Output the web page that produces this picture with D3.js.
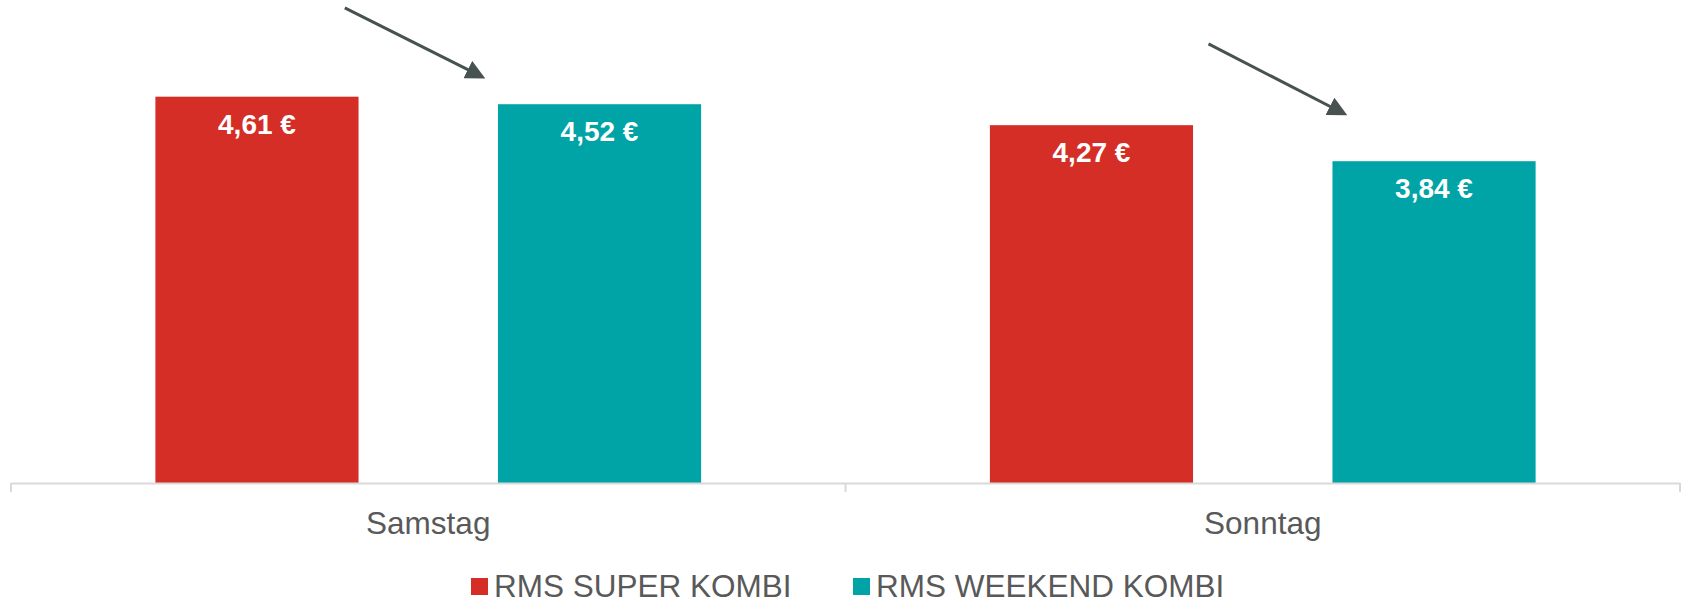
<!DOCTYPE html>
<html>
<head>
<meta charset="utf-8">
<script src="https://cdn.jsdelivr.net/npm/d3@7"></script>
<style>
  body { margin: 0; background: #fff; }
  svg { display: block; font-family: "Liberation Sans", Arial, sans-serif; }
</style>
</head>
<body>
<div id="container"></div>
<script>
// data
var categories = ["Samstag", "Sonntag"];
var seriesNames = ["RMS SUPER KOMBI", "RMS WEEKEND KOMBI"];
var seriesColors = ["#d42e27", "#00a3a6"];
var superKombi = [4.61, 4.27];
var weekendKombi = [4.52, 3.84];
// arrows: start/end as [band fraction within category, value]
var arrows = [
  { cat: "Samstag", from: [0.4, 5.67], to: [0.56, 4.87] },
  { cat: "Sonntag", from: [0.435, 5.24], to: [0.593, 4.43] }
];

var width = 1683,
  height = 603,
  baseY = 483,
  pxPerUnit = 83.8,
  yMax = 5.5;

var svg = d3.select("#container").append("svg")
  .attr("width", width)
  .attr("height", height);

var x0 = d3.scaleBand().domain(categories).range([11, 1680]).padding(0);
var x1 = d3.scaleBand().domain(seriesNames).range([0, x0.bandwidth()])
  .paddingInner(0.407).paddingOuter(0.4215);
var y = d3.scaleLinear().domain([0, yMax]).range([baseY, baseY - yMax * pxPerUnit]);

var de = d3.formatLocale({ decimal: ",", thousands: ".", grouping: [3], currency: ["", " €"] });
var fmt = de.format(".2f");

var rows = [];
categories.forEach(function (c, i) {
  rows.push({ cat: c, s: seriesNames[0], v: superKombi[i], color: seriesColors[0] });
  rows.push({ cat: c, s: seriesNames[1], v: weekendKombi[i], color: seriesColors[1] });
});

// bars
var g = svg.append("g");
g.selectAll("rect.bar").data(rows).enter().append("rect")
  .attr("class", "bar")
  .attr("x", d => x0(d.cat) + x1(d.s))
  .attr("y", d => y(d.v))
  .attr("width", x1.bandwidth())
  .attr("height", d => y(0) - y(d.v))
  .attr("fill", d => d.color);

g.selectAll("text.val").data(rows).enter().append("text")
  .attr("class", "val")
  .attr("x", d => x0(d.cat) + x1(d.s) + x1.bandwidth() / 2)
  .attr("y", d => y(d.v) + 37)
  .attr("text-anchor", "middle")
  .attr("fill", "#fff")
  .style("font-size", "28px")
  .style("font-weight", "bold")
  .text(d => fmt(d.v) + " €");

// x axis
var gX = svg.append("g").attr("transform", "translate(0," + baseY + ")")
  .call(d3.axisBottom(x0).tickSize(0).tickPadding(0));
gX.select("path.domain").attr("stroke", "#d9d9d9").attr("stroke-width", 2);
gX.selectAll(".tick text")
  .attr("dy", 0).attr("y", 51)
  .attr("fill", "#595959")
  .style("font-size", "31.5px")
  .style("font-family", "'Liberation Sans', Arial, sans-serif");
var bounds = categories.map(c => x0(c)).concat([x0.range()[1]]);
gX.selectAll("line.sep").data(bounds).enter().append("line")
  .attr("class", "sep")
  .attr("x1", d => d).attr("x2", d => d)
  .attr("y1", 0).attr("y2", 9)
  .attr("stroke", "#d9d9d9").attr("stroke-width", 2);

// arrows
svg.append("defs").append("marker")
  .attr("id", "arrowhead")
  .attr("viewBox", "0 0 10 10")
  .attr("refX", 6).attr("refY", 5)
  .attr("markerWidth", 6.5).attr("markerHeight", 6.5)
  .attr("orient", "auto")
  .append("path").attr("d", "M0,0 L10,5 L0,10 Z").attr("fill", "#485250");

svg.selectAll("line.arrow").data(arrows).enter().append("line")
  .attr("class", "arrow")
  .attr("x1", d => x0(d.cat) + d.from[0] * x0.bandwidth())
  .attr("y1", d => y(d.from[1]))
  .attr("x2", d => x0(d.cat) + d.to[0] * x0.bandwidth())
  .attr("y2", d => y(d.to[1]))
  .attr("stroke", "#485250")
  .attr("stroke-width", 3)
  .attr("marker-end", "url(#arrowhead)");

// legend
var legend = svg.append("g").attr("transform", "translate(471,597)");
var legX = [0, 382];
seriesNames.forEach(function (s, i) {
  var lg = legend.append("g").attr("transform", "translate(" + legX[i] + ",0)");
  lg.append("rect").attr("x", 0).attr("y", -19).attr("width", 17).attr("height", 17)
    .attr("fill", seriesColors[i]);
  lg.append("text").attr("x", 23).attr("y", 0)
    .attr("fill", "#595959")
    .style("font-size", "31.5px")
    .text(s);
});
</script>
</body>
</html>
